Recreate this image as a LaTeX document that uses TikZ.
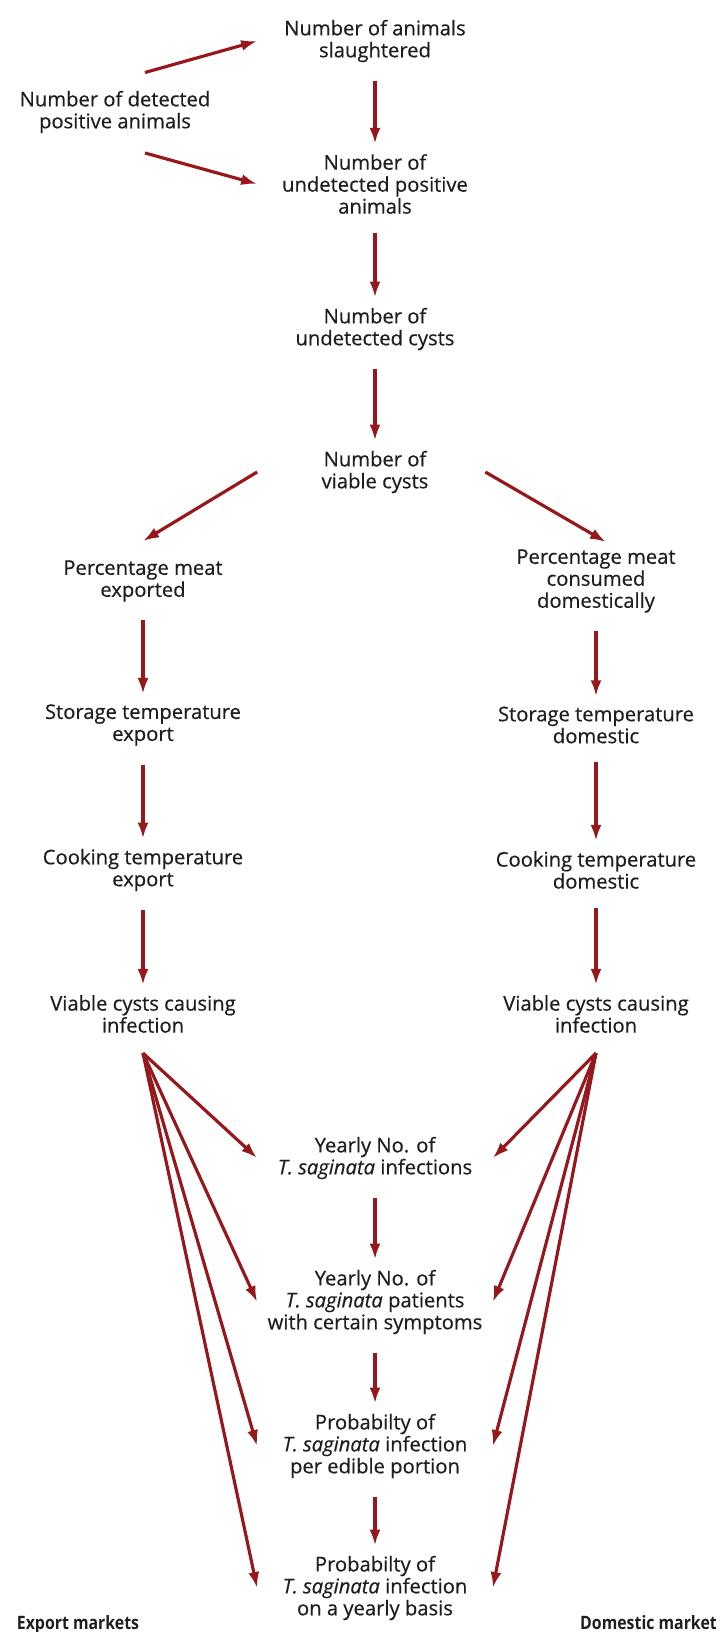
\documentclass[tikz,border=0pt]{standalone}
\usepackage{fontspec}
\setmainfont{Open Sans}[UprightFeatures={FakeBold=0.5}, ItalicFeatures={FakeBold=0.5}]
\newfontfamily\narrowfont{Open Sans}[FakeStretch=0.86]
\usetikzlibrary{arrows.meta}
\definecolor{arrowred}{RGB}{150,24,28}
\definecolor{textgrey}{RGB}{30,30,30}

\begin{document}
\begin{tikzpicture}[text=textgrey]
\tikzset{edge/.style = {-{Latex[length=.32cm,width=.22cm]}, draw=arrowred, line width=1.8pt}}
\tikzset{vedge/.style = {edge, shorten <=.27cm, shorten >=.1cm}}
\tikzset{box/.style = {align=center, inner sep=.1cm, font=\fontsize{11.5}{12.5}\selectfont}}
\tikzset{midbox/.style = {box, minimum width=4.7cm}}
\tikzset{market/.style = {font=\narrowfont\fontsize{10.5}{12}\selectfont\bfseries}}

\useasboundingbox (0,0) rectangle (14.46,-32.64);

% centre column
\node[midbox] (sla) at (7.5,-0.82) {Number of animals\\ slaughtered};
\node[box]    (det) at (2.3,-2.24) {Number of detected\\ positive animals};
\node[midbox] (und) at (7.5,-3.68) {Number of\\ undetected positive\\ animals};
\node[midbox] (cys) at (7.5,-6.58) {Number of\\ undetected cysts};
\node[midbox] (via) at (7.5,-9.44) {Number of\\ viable cysts};

% export side
\node[box] (pex) at (2.86,-11.62) {Percentage meat\\ exported};
\node[box] (sex) at (2.86,-14.5)  {Storage temperature\\ export};
\node[box] (cex) at (2.86,-17.4)  {Cooking temperature\\ export};
\node[box] (vex) at (2.86,-20.28) {Viable cysts causing\\ infection};

% domestic side
\node[box] (pdo) at (11.92,-11.62) {Percentage meat\\ consumed\\ domestically};
\node[box] (sdo) at (11.92,-14.5)  {Storage temperature\\ domestic};
\node[box] (cdo) at (11.92,-17.4)  {Cooking temperature\\ domestic};
\node[box] (vdo) at (11.92,-20.28) {Viable cysts causing\\ infection};

% outcomes
\node[midbox] (inf) at (7.5,-23.16) {Yearly No. of\\ \textit{T. saginata} infections};
\node[midbox] (pat) at (7.5,-26.04) {Yearly No. of\\ \textit{T. saginata} patients\\ with certain symptoms};
\node[midbox] (edi) at (7.5,-28.92) {Probabilty of\\ \textit{T. saginata} infection\\ per edible portion};
\node[midbox] (yea) at (7.5,-31.76) {Probabilty of\\ \textit{T. saginata} infection\\ on a yearly basis};

\node[market, anchor=base]      (exm) at (1.56,-32.58)  {Export markets};
\node[market, anchor=base east] (dom) at (14.46,-32.58) {Domestic market};

\draw[edge] ([xshift=.6cm,yshift=.26cm]det.north) -- (sla.west);
\draw[edge] ([xshift=.6cm,yshift=-.29cm]det.south) -- (und.west);
\draw[edge] (via.west) -- ([yshift=.28cm]pex.north);
\draw[edge] ([xshift=-.15cm]via.east) -- ([xshift=.2cm,yshift=.04cm]pdo.north);

\foreach \a/\b in {sla/und, und/cys, cys/via, pex/sex, sex/cex, cex/vex,
                   pdo/sdo, sdo/cdo, cdo/vdo, inf/pat, pat/edi, edi/yea}
  {\draw[vedge] (\a) -- (\b);}

\coordinate (fanl) at ([yshift=-.3cm]vex.south);
\coordinate (fanr) at ([yshift=-.3cm]vdo.south);
\foreach \t in {inf, pat, edi, yea}
  {\draw[edge] (fanl) -- (\t.west);
   \draw[edge] (fanr) -- (\t.east);}

\end{tikzpicture}
\end{document}
